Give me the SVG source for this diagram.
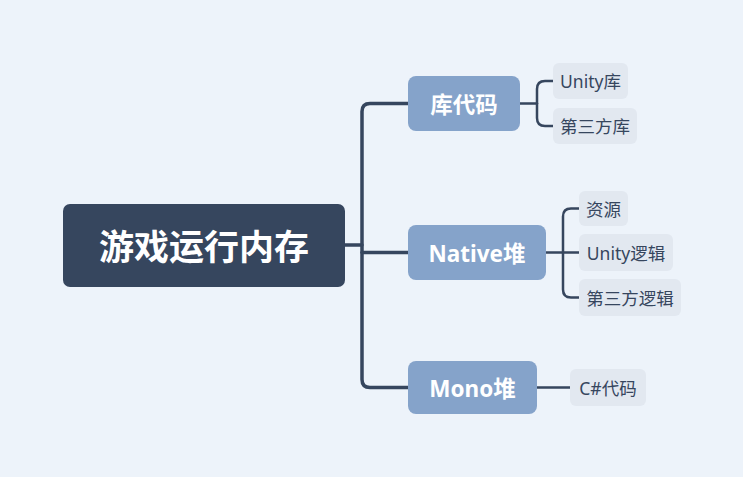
<svg xmlns="http://www.w3.org/2000/svg" width="743" height="477" viewBox="0 0 743 477">
<style>
.bg{fill:#EDF3FA}
.root{fill:#36465E}
.mid{fill:#85A3CA}
.leaf{fill:#E2E8F0}
.line{fill:none;stroke:#36465E;stroke-linecap:round;stroke-linejoin:round}
.t0{font-family:"Noto Sans","Noto Sans CJK SC",sans-serif;font-weight:bold;fill:#FFFFFF;text-anchor:middle;dominant-baseline:central}
.t2{font-family:"Noto Sans","Noto Sans CJK SC",sans-serif;fill:#36465E;text-anchor:middle;dominant-baseline:central;font-size:17.5px}
</style>
<rect class="bg" x="0" y="0" width="743" height="477"/>
<g id="connectors">
<path class="line" stroke-width="3.5" d="M345,245 H362"/>
<path class="line" stroke-width="3.5" d="M408,103.5 H370 Q362,103.5 362,111.5 V379.5 Q362,387.5 370,387.5 H408"/>
<path class="line" stroke-width="3.5" d="M362,252.5 H408"/>
<path class="line" stroke-width="2.5" d="M520,103.5 H537"/>
<path class="line" stroke-width="2.5" d="M553,81 H545 Q537,81 537,89 V118 Q537,126 545,126 H553"/>
<path class="line" stroke-width="2.5" d="M546,252.5 H579"/>
<path class="line" stroke-width="2.5" d="M579,208.5 H571 Q563,208.5 563,216.5 V289.5 Q563,297.5 571,297.5 H579"/>
<path class="line" stroke-width="2.5" d="M537,387.5 H570"/>
</g>
<g id="root">
<rect class="root" x="63" y="204" width="282" height="83" rx="7"/>
<text class="t0" x="204" y="246" font-size="35">游戏运行内存</text>
</g>
<g id="n-lib">
<rect class="mid" x="408" y="76" width="112" height="55" rx="8"/>
<text class="t0" x="464" y="104" font-size="22.5">库代码</text>
</g>
<g id="n-native">
<rect class="mid" x="408" y="225" width="138" height="55" rx="8"/>
<text class="t0" x="477" y="253" font-size="22.5">Native堆</text>
</g>
<g id="n-mono">
<rect class="mid" x="408" y="361" width="129" height="53" rx="8"/>
<text class="t0" x="472.5" y="388" font-size="22.5">Mono堆</text>
</g>
<g id="l-unitylib">
<rect class="leaf" x="553" y="63" width="75" height="36" rx="6"/>
<text class="t2" x="590.5" y="81">Unity库</text>
</g>
<g id="l-3rdlib">
<rect class="leaf" x="553" y="108" width="84" height="36" rx="6"/>
<text class="t2" x="595" y="126">第三方库</text>
</g>
<g id="l-res">
<rect class="leaf" x="579" y="191" width="49" height="35" rx="6"/>
<text class="t2" x="603.5" y="208.5">资源</text>
</g>
<g id="l-unitylogic">
<rect class="leaf" x="579" y="234" width="94" height="37" rx="6"/>
<text class="t2" x="626" y="252.5">Unity逻辑</text>
</g>
<g id="l-3rdlogic">
<rect class="leaf" x="579" y="279" width="102" height="37" rx="6"/>
<text class="t2" x="630" y="297.5">第三方逻辑</text>
</g>
<g id="l-cs">
<rect class="leaf" x="570" y="369" width="76" height="37" rx="6"/>
<text class="t2" x="608" y="387.5">C#代码</text>
</g>
</svg>
